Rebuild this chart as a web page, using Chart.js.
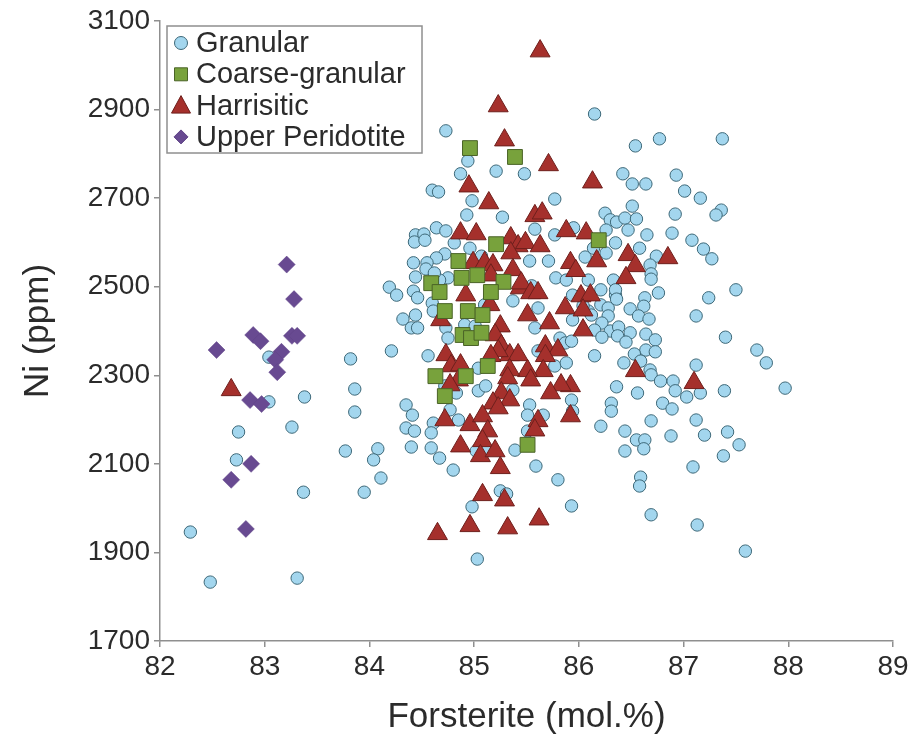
<!DOCTYPE html>
<html lang="en">
<head>
<meta charset="UTF-8">
<title>Ni vs Forsterite</title>
<script src="https://cdn.jsdelivr.net/npm/chart.js"></script>
<style>
  html, body { margin: 0; padding: 0; background: #fff; }
  #wrap { width: 913px; height: 738px; }
</style>
</head>
<body>
<div id="wrap"><canvas id="olivine" width="913" height="738"></canvas></div>
<script>
// [Fo mol.%, Ni ppm]
const granular = [
  [83.04,2341],[83.04,2240],[83.38,2251],[83.26,2183],[82.75,2172],[82.73,2109],[83.37,2036],[82.29,1946],
  [82.48,1833],[83.31,1842],[83.82,2337],[83.86,2269],[83.86,2217],[83.77,2129],[84.08,2134],[84.04,2109],
  [84.11,2068],[83.95,2036],[84.21,2355],[84.19,2499],[84.26,2481],[84.42,2554],[84.44,2522],[84.42,2490],
  [84.32,2427],[84.44,2436],[84.40,2407],[84.46,2407],[84.35,2233],[84.41,2210],[84.35,2181],[84.43,2174],
  [84.40,2138],
  [84.87,2755],[85.21,2761],[84.60,2718],[84.66,2714],[84.98,2694],[84.93,2662],[85.27,2657],[84.64,2633],
  [84.73,2626],[84.44,2617],[84.52,2619],[84.43,2601],[84.53,2605],[84.81,2599],[84.96,2587],[84.72,2574],
  [84.64,2565],[84.55,2554],[84.54,2540],[84.75,2520],[84.46,2475],[84.60,2463],[85.10,2459],[85.37,2468],
  [85.07,2569],[84.67,2515],
  [84.73,2852],[86.15,2890],[84.94,2784],[85.48,2755],[85.77,2698],[84.62,2531],[85.53,2558],[85.71,2558],
  [85.78,2520],[85.88,2515],[85.77,2617],[85.95,2633],[86.14,2587],[85.58,2630],[85.55,2502],
  [86.25,2666],[86.30,2651],[86.26,2628],[86.26,2576],[86.35,2599],[86.06,2567],[86.09,2515],[86.33,2515],
  [86.21,2493],[85.94,2481],[86.21,2459],[86.28,2452],[86.35,2481],[85.61,2452],[86.09,2445],
  [84.61,2445],[84.73,2407],[84.75,2384],[84.91,2414],[85.01,2411],[84.56,2344],[85.04,2316],[84.72,2276],
  [84.83,2260],[85.04,2265],[85.11,2276],[85.58,2407],[85.82,2384],[85.87,2373],[85.93,2377],[86.15,2344],
  [85.61,2355],[85.77,2321],[85.88,2328],[85.37,2267],[85.53,2233],[85.51,2210],[85.66,2210],[85.93,2244],
  [85.94,2219],[84.61,2192],[84.59,2170],[84.77,2222],[84.85,2199],[84.59,2136],[84.67,2113],[84.80,2086],
  [85.02,2129],[85.11,2129],[85.39,2131],[85.51,2174],[85.59,2095],[85.80,2064],[86.04,2457],[86.12,2436],
  [85.94,2425],
  [85.25,2039],[85.31,2032],[84.98,2003],[85.93,2005],[85.03,1885],
  [86.54,2818],[86.77,2834],[87.37,2834],[86.42,2755],[86.51,2732],[86.64,2732],[86.93,2752],[87.01,2716],
  [87.16,2700],[87.36,2673],[87.31,2662],[86.92,2664],[86.51,2682],[86.36,2646],[86.44,2655],[86.55,2653],
  [86.47,2628],[86.65,2617],[86.89,2621],[87.08,2605],[87.19,2585],[87.27,2563],[86.58,2587],[86.74,2569],
  [86.68,2549],[86.69,2529],[86.69,2517],[86.35,2493],[86.36,2472],[86.76,2486],[86.63,2475],[87.50,2493],
  [87.24,2475],[86.49,2450],[86.62,2456],[86.28,2434],[86.57,2434],[86.67,2427],[87.12,2434],[86.22,2418],
  [86.15,2402],[86.30,2400],[86.38,2409],[86.49,2396],[86.22,2386],[86.37,2389],[86.45,2375],[86.64,2393],
  [86.73,2380],[87.40,2386],[86.64,2357],[86.73,2353],[86.53,2348],[87.70,2357],[87.79,2328],[86.43,2328],
  [86.59,2332],[86.68,2312],[86.69,2301],[86.78,2287],[86.90,2287],[87.12,2323],[86.36,2274],[87.97,2271],
  [86.56,2260],[86.92,2265],[87.03,2251],[87.16,2260],[87.39,2265],[86.31,2237],[86.31,2219],[86.21,2185],
  [86.44,2174],[86.69,2197],[86.80,2237],[86.89,2224],[87.12,2199],[86.55,2154],[86.63,2154],[86.62,2134],
  [86.44,2129],[86.88,2163],[87.20,2165],[87.42,2172],[87.53,2143],[87.38,2118],[87.09,2093],[86.59,2070],
  [86.58,2050],[86.69,1985],[87.13,1962],[87.59,1903]
];

const coarseGranular = [
  [84.96,2813],[85.39,2793],[85.21,2596],[84.85,2558],[84.59,2508],[84.67,2488],[84.88,2520],[85.03,2526],
  [85.28,2511],[85.16,2488],[84.72,2445],[84.94,2445],[85.08,2436],[84.89,2391],[84.97,2384],[85.07,2396],
  [85.13,2321],[84.92,2298],[84.63,2298],[84.72,2253],[85.51,2143],[86.19,2605]
];

const harrisitic = [
  [82.68,2267],[85.63,3032],[85.23,2908],[85.29,2831],[85.71,2775],[86.13,2736],[84.95,2727],[85.14,2689],
  [85.58,2660],[85.65,2666],[84.87,2621],[85.02,2619],[85.35,2610],[85.42,2592],[85.49,2599],[85.63,2592],
  [85.88,2626],[86.07,2621],[85.35,2576],[84.99,2554],[85.10,2554],[85.18,2549],[85.16,2526],[85.37,2538],
  [85.92,2554],[85.97,2536],[86.17,2558],[85.44,2497],[85.45,2508],[85.54,2486],[85.61,2486],[84.92,2481],
  [85.15,2459],[85.51,2436],[85.87,2452],[86.02,2479],[86.11,2481],[86.04,2447],[85.72,2418],[86.04,2402],
  [84.68,2425],[85.25,2411],[85.20,2391],[85.26,2366],[85.34,2346],[85.42,2346],[85.23,2355],[84.73,2346],
  [84.78,2321],[84.87,2323],[85.16,2344],[85.68,2366],[85.80,2357],[85.68,2344],[85.66,2310],[85.51,2310],
  [85.54,2289],[85.34,2312],[85.32,2294],[85.92,2276],[85.83,2278],[85.73,2260],[84.85,2289],[84.77,2278],
  [85.26,2260],[85.34,2244],[85.18,2237],[85.23,2226],[84.72,2199],[84.96,2188],[85.08,2208],[85.13,2174],
  [85.08,2152],[85.61,2197],[85.58,2176],[85.92,2208],[84.87,2140],[85.06,2118],[85.20,2129],[85.25,2091],
  [85.08,2030],[85.29,2018],[84.96,1960],[84.65,1942],[85.32,1955],[85.62,1975],[86.85,2565],[86.47,2572],
  [86.54,2547],[86.45,2520],[86.54,2310],[87.10,2283]
];

const upperPeridotite = [
  [83.21,2550],[83.28,2472],[82.89,2391],[82.96,2377],[83.26,2389],[83.31,2389],[82.54,2357],[83.16,2353],
  [83.10,2335],[83.12,2307],[82.86,2244],[82.97,2235],[82.87,2100],[82.68,2064],[82.82,1953]
];

const xTicks = [82, 83, 84, 85, 86, 87, 88, 89];
const yTicks = [1700, 1900, 2100, 2300, 2500, 2700, 2900, 3100];

const FONT = "'Liberation Sans', Arial, Helvetica, sans-serif";
const TEXT = '#2b2b2b';
const AXIS = '#8f8f8f';

const toXY = arr => arr.map(p => ({ x: p[0], y: p[1] }));

// legend box sits inside the plot, top-left
const insetLegend = {
  id: 'insetLegend',
  afterDatasetsDraw(chart) {
    const ctx = chart.ctx;
    const box = { x: 167, y: 26, w: 255, h: 127 };
    ctx.save();
    ctx.fillStyle = '#fff';
    ctx.strokeStyle = AXIS;
    ctx.lineWidth = 1.5;
    ctx.fillRect(box.x, box.y, box.w, box.h);
    ctx.strokeRect(box.x, box.y, box.w, box.h);

    const rows = [...chart.data.datasets].sort((a, b) => a.legendIndex - b.legendIndex);
    rows.forEach((ds, i) => {
      const cy = 43 + i * 31.3;
      drawMarker(ctx, ds.pointStyle, 181, cy, ds.legendRadius, ds.backgroundColor, ds.borderColor);
      ctx.fillStyle = TEXT;
      ctx.font = '29px ' + FONT;
      ctx.textBaseline = 'middle';
      ctx.textAlign = 'left';
      ctx.fillText(ds.label, 196, cy + 1);
    });
    ctx.restore();
  }
};

function drawMarker(ctx, style, x, y, r, fill, stroke) {
  ctx.beginPath();
  if (style === 'circle') {
    ctx.arc(x, y, r, 0, Math.PI * 2);
  } else if (style === 'rect') {
    ctx.rect(x - r, y - r, 2 * r, 2 * r);
  } else if (style === 'triangle') {
    ctx.moveTo(x, y - r);
    ctx.lineTo(x + r * 0.95, y + r * 0.75);
    ctx.lineTo(x - r * 0.95, y + r * 0.75);
    ctx.closePath();
  } else {
    ctx.moveTo(x, y - r);
    ctx.lineTo(x + r, y);
    ctx.lineTo(x, y + r);
    ctx.lineTo(x - r, y);
    ctx.closePath();
  }
  ctx.fillStyle = fill;
  ctx.fill();
  ctx.strokeStyle = stroke;
  ctx.lineWidth = 1;
  ctx.stroke();
}

new Chart(document.getElementById('olivine'), {
  type: 'scatter',
  data: {
    datasets: [
      {
        label: 'Granular', legendIndex: 0, legendRadius: 6.5, order: 4,
        data: toXY(granular),
        pointStyle: 'circle', pointRadius: 6.2,
        backgroundColor: '#a3d6ee', borderColor: '#3d6878', borderWidth: 1
      },
      {
        label: 'Harrisitic', legendIndex: 2, legendRadius: 10, order: 3,
        data: toXY(harrisitic),
        pointStyle: 'triangle', pointRadius: 11.5,
        backgroundColor: '#a5302c', borderColor: '#6e1f1c', borderWidth: 1
      },
      {
        label: 'Coarse-granular', legendIndex: 1, legendRadius: 6.5, order: 2,
        data: toXY(coarseGranular),
        pointStyle: 'rect', pointRadius: 10.5,
        backgroundColor: '#78a23c', borderColor: '#4a6327', borderWidth: 1
      },
      {
        label: 'Upper Peridotite', legendIndex: 3, legendRadius: 7, order: 1,
        data: toXY(upperPeridotite),
        pointStyle: 'rectRot', pointRadius: 8.5,
        backgroundColor: '#684a91', borderColor: '#5e4286', borderWidth: 0.5
      }
    ]
  },
  options: {
    responsive: false,
    animation: false,
    layout: { padding: { top: 21, right: 20, left: 0, bottom: 0 } },
    plugins: {
      legend: { display: false },
      tooltip: { enabled: false }
    },
    scales: {
      x: {
        type: 'linear',
        min: xTicks[0],
        max: xTicks[xTicks.length - 1],
        afterBuildTicks: s => { s.ticks = xTicks.map(v => ({ value: v })); },
        afterFit: s => { s.height = 97; },
        grid: { drawOnChartArea: false, tickLength: 6, color: AXIS, lineWidth: 1.5 },
        border: { color: AXIS, width: 1.5 },
        ticks: { color: TEXT, padding: 3, font: { family: FONT, size: 28 }, callback: v => String(v) },
        title: {
          display: true, text: 'Forsterite (mol.%)', color: TEXT,
          font: { family: FONT, size: 35 }, padding: { top: 0, bottom: 0 }
        }
      },
      y: {
        type: 'linear',
        min: yTicks[0],
        max: yTicks[yTicks.length - 1],
        afterBuildTicks: s => { s.ticks = yTicks.map(v => ({ value: v })); },
        afterFit: s => { s.width = 160; },
        grid: { drawOnChartArea: false, tickLength: 6, color: AXIS, lineWidth: 1.5 },
        border: { color: AXIS, width: 1.5 },
        ticks: { color: TEXT, padding: 4, font: { family: FONT, size: 28 }, callback: v => String(v) },
        title: {
          display: true, text: 'Ni (ppm)', color: TEXT,
          font: { family: FONT, size: 35 }, padding: { top: 17, bottom: 0 }
        }
      }
    }
  },
  plugins: [insetLegend]
});
</script>
</body>
</html>
